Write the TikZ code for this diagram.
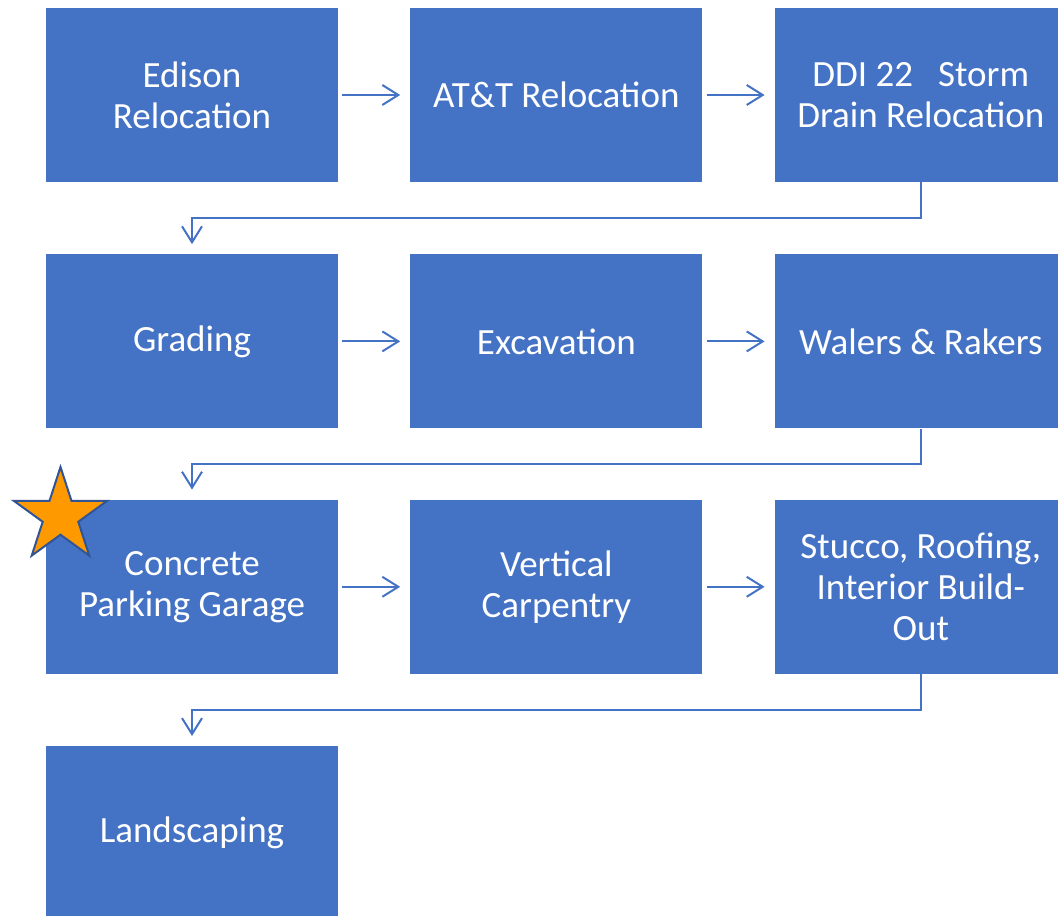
\documentclass[tikz,border=0pt]{standalone}
\usepackage{fontspec}
\setmainfont{Carlito}
\usepackage{xcolor}
\usepackage{tikz}
\usetikzlibrary{
    arrows.meta,
    calc,
    positioning,
    shapes.geometric
}
\definecolor{boxblue}{HTML}{4472C4}
\definecolor{starorange}{HTML}{FF9900}
\definecolor{stardark}{HTML}{2F5597}

\begin{document}
\begin{tikzpicture}[x=1pt,y=1pt,
    stage/.style={rectangle,fill=boxblue,text=white,minimum width=292pt,minimum height=174pt,
        inner sep=0pt,align=center,font=\fontsize{37}{41}\selectfont},
    flow/.style={draw=boxblue,line width=2pt,-{Straight Barb[length=16pt,width=20pt,line width=2pt]},
        shorten <=4pt,shorten >=10pt},
    node distance=72pt and 72pt]
\useasboundingbox (0,0) rectangle (1058,916);

% First row
\node[stage] (edison) at (192,821) {Edison\\Relocation};
\node[stage,right=of edison] (att) {AT\&T Relocation};
\node[stage,right=of att] (ddi) {DDI 22\ \ \ Storm\\Drain Relocation};

% Second row
\node[stage,below=of edison] (grading) {Grading};
\node[stage,right=of grading] (excavation) {Excavation};
\node[stage,right=of excavation] (walers) {Walers \& Rakers};

% Third row
\node[stage,below=71pt of grading] (concrete) {Concrete\\Parking Garage};
\node[stage,right=of concrete] (carpentry) {Vertical\\Carpentry};
\node[stage,right=of carpentry] (stucco) {Stucco, Roofing,\\Interior Build-\\Out};

% Last row
\node[stage,below=of concrete] (landscaping) {Landscaping};

% Arrows along the rows
\draw[flow] (edison) -- (att);
\draw[flow] (att) -- (ddi);
\draw[flow] (grading) -- (excavation);
\draw[flow] (excavation) -- (walers);
\draw[flow] (concrete) -- (carpentry);
\draw[flow] (carpentry) -- (stucco);

% Arrows to the next row
\draw[flow,shorten <=0pt] (ddi.south) -- ++(0,-36) -| (grading.north);
\draw[flow,shorten <=0pt] (walers.south) -- ++(0,-35) -| (concrete.north);
\draw[flow,shorten <=0pt] (stucco.south) -- ++(0,-36) -| (landscaping.north);

% Star on the garage
\node[star,star points=5,star point ratio=2.618,minimum size=98pt,inner sep=0pt,
    fill=starorange,draw=stardark,line width=2pt] (mark) at (60.5,400) {};
\end{tikzpicture}
\end{document}
